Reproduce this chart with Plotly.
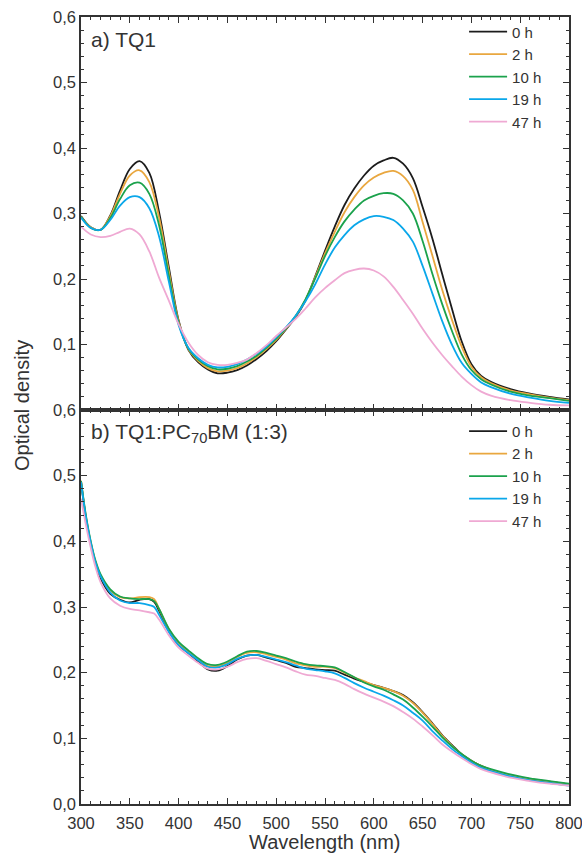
import plotly.graph_objects as go

# ---------------- data ----------------
series_names = ["0 h", "2 h", "10 h", "19 h", "47 h"]
series_colors = ["#1c1c1c", "#E9A73F", "#1BA24C", "#0AA7EA", "#EFA9D3"]

wl_top = [300, 310, 320, 330, 340, 350, 360, 370, 380, 390, 400, 410, 420, 430, 440,
          450, 460, 470, 480, 490, 500, 510, 520, 530, 540, 550, 560, 570, 580, 590,
          600, 610, 620, 630, 640, 650, 660, 670, 680, 690, 700, 710, 720, 740, 760,
          780, 800]

top_0h = [0.296, 0.279, 0.275, 0.297, 0.335, 0.368, 0.380, 0.362, 0.302, 0.218, 0.137,
          0.092, 0.073, 0.062, 0.056, 0.057, 0.061, 0.068, 0.078, 0.090, 0.105, 0.123,
          0.142, 0.167, 0.204, 0.243, 0.280, 0.313, 0.338, 0.358, 0.373, 0.381, 0.385,
          0.376, 0.354, 0.310, 0.262, 0.208, 0.155, 0.105, 0.070, 0.052, 0.043, 0.032,
          0.025, 0.020, 0.016]
top_2h = [0.295, 0.279, 0.275, 0.296, 0.330, 0.358, 0.366, 0.348, 0.294, 0.212, 0.135,
          0.093, 0.075, 0.064, 0.059, 0.060, 0.064, 0.071, 0.081, 0.093, 0.107, 0.124,
          0.143, 0.168, 0.203, 0.239, 0.272, 0.302, 0.325, 0.343, 0.355, 0.362, 0.365,
          0.357, 0.336, 0.287, 0.236, 0.184, 0.138, 0.097, 0.066, 0.050, 0.041, 0.030,
          0.024, 0.019, 0.015]
top_10h = [0.295, 0.278, 0.275, 0.293, 0.322, 0.343, 0.347, 0.330, 0.282, 0.205, 0.133,
           0.094, 0.077, 0.067, 0.062, 0.063, 0.067, 0.074, 0.083, 0.095, 0.109, 0.125,
           0.144, 0.169, 0.201, 0.235, 0.264, 0.288, 0.306, 0.320, 0.327, 0.331, 0.330,
           0.320, 0.300, 0.258, 0.208, 0.162, 0.121, 0.085, 0.061, 0.047, 0.039, 0.028,
           0.022, 0.018, 0.014]
top_19h = [0.294, 0.278, 0.275, 0.290, 0.312, 0.325, 0.325, 0.308, 0.265, 0.196, 0.130,
           0.095, 0.079, 0.069, 0.065, 0.066, 0.070, 0.077, 0.086, 0.097, 0.111, 0.126,
           0.144, 0.166, 0.192, 0.222, 0.248, 0.267, 0.282, 0.291, 0.296, 0.295, 0.290,
           0.277, 0.257, 0.220, 0.178, 0.136, 0.100, 0.072, 0.055, 0.042, 0.035, 0.025,
           0.019, 0.014, 0.011]
top_47h = [0.280, 0.268, 0.264, 0.266, 0.272, 0.277, 0.268, 0.242, 0.202, 0.167, 0.131,
           0.103, 0.084, 0.073, 0.069, 0.069, 0.072, 0.077, 0.087, 0.099, 0.113, 0.126,
           0.139, 0.155, 0.172, 0.186, 0.198, 0.209, 0.214, 0.216, 0.213, 0.204, 0.188,
           0.168, 0.147, 0.124, 0.103, 0.084, 0.067, 0.051, 0.038, 0.028, 0.022, 0.015,
           0.011, 0.008, 0.007]

wl_bot = [300, 305, 310, 315, 320, 330, 340, 350, 360, 370, 375, 380, 390, 400, 410,
          420, 430, 440, 450, 460, 470, 480, 490, 500, 510, 520, 530, 540, 550, 560,
          570, 580, 590, 600, 610, 620, 630, 640, 650, 660, 670, 680, 690, 700, 710,
          720, 740, 760, 780, 800]

bot_0h = [0.492, 0.435, 0.395, 0.365, 0.344, 0.320, 0.311, 0.307, 0.311, 0.312, 0.308,
          0.294, 0.263, 0.242, 0.230, 0.217, 0.205, 0.203, 0.210, 0.220, 0.226, 0.227,
          0.223, 0.219, 0.215, 0.209, 0.207, 0.205, 0.204, 0.203, 0.197, 0.191, 0.186,
          0.181, 0.177, 0.172, 0.166, 0.155, 0.140, 0.123, 0.105, 0.090, 0.076, 0.066,
          0.058, 0.052, 0.043, 0.038, 0.034, 0.030]
bot_2h = [0.492, 0.438, 0.398, 0.368, 0.348, 0.325, 0.315, 0.313, 0.315, 0.315, 0.312,
          0.297, 0.266, 0.245, 0.232, 0.220, 0.210, 0.210, 0.215, 0.224, 0.230, 0.231,
          0.228, 0.224, 0.220, 0.214, 0.211, 0.209, 0.209, 0.207, 0.200, 0.193, 0.187,
          0.181, 0.177, 0.172, 0.165, 0.154, 0.139, 0.122, 0.104, 0.089, 0.076, 0.066,
          0.058, 0.052, 0.043, 0.038, 0.034, 0.030]
bot_10h = [0.492, 0.440, 0.400, 0.370, 0.350, 0.327, 0.316, 0.313, 0.312, 0.312, 0.309,
           0.297, 0.267, 0.247, 0.234, 0.222, 0.213, 0.212, 0.217, 0.225, 0.232, 0.233,
           0.230, 0.226, 0.222, 0.217, 0.213, 0.211, 0.210, 0.208, 0.201, 0.193, 0.185,
           0.179, 0.174, 0.167, 0.159, 0.147, 0.133, 0.118, 0.102, 0.088, 0.076, 0.066,
           0.058, 0.053, 0.045, 0.039, 0.035, 0.031]
bot_19h = [0.490, 0.437, 0.398, 0.367, 0.347, 0.322, 0.310, 0.306, 0.306, 0.303, 0.300,
           0.288, 0.262, 0.242, 0.230, 0.219, 0.209, 0.208, 0.213, 0.221, 0.226, 0.227,
           0.224, 0.220, 0.216, 0.211, 0.206, 0.204, 0.202, 0.199, 0.192, 0.184, 0.177,
           0.171, 0.165, 0.158, 0.150, 0.139, 0.127, 0.111, 0.097, 0.084, 0.073, 0.063,
           0.055, 0.050, 0.042, 0.036, 0.032, 0.028]
bot_47h = [0.465, 0.425, 0.390, 0.360, 0.338, 0.313, 0.302, 0.297, 0.295, 0.292, 0.290,
           0.281, 0.257, 0.238, 0.226, 0.215, 0.206, 0.205, 0.209, 0.216, 0.221, 0.222,
           0.218, 0.213, 0.208, 0.202, 0.197, 0.195, 0.192, 0.189, 0.183, 0.175, 0.168,
           0.162, 0.156, 0.149, 0.140, 0.130, 0.118, 0.105, 0.091, 0.080, 0.070, 0.061,
           0.053, 0.048, 0.040, 0.035, 0.031, 0.028]

top_series = [top_0h, top_2h, top_10h, top_19h, top_47h]
bot_series = [bot_0h, bot_2h, bot_10h, bot_19h, bot_47h]

x_ticks = [300, 350, 400, 450, 500, 550, 600, 650, 700, 750, 800]
top_yticks = [0.1, 0.2, 0.3, 0.4, 0.5, 0.6]
top_ytext = ["0,1", "0,2", "0,3", "0,4", "0,5", "0,6"]
bot_yticks = [0.0, 0.1, 0.2, 0.3, 0.4, 0.5, 0.6]
bot_ytext = ["0,0", "0,1", "0,2", "0,3", "0,4", "0,5", "0,6"]

# ---------------- figure ----------------
FONT = "Liberation Sans, Arial, sans-serif"
TXT = "#333333"
AX = "#333333"

fig = go.Figure()
for name, col, ys in zip(series_names, series_colors, top_series):
    fig.add_trace(go.Scatter(x=wl_top, y=ys, mode="lines", name=name,
                             line=dict(color=col, width=1.8, shape="spline", smoothing=1.0),
                             xaxis="x", yaxis="y", legend="legend"))
for name, col, ys in zip(series_names, series_colors, bot_series):
    fig.add_trace(go.Scatter(x=wl_bot, y=ys, mode="lines", name=name,
                             line=dict(color=col, width=1.8, shape="spline", smoothing=1.0),
                             xaxis="x2", yaxis="y2", legend="legend2"))

split = 394 / 787

xcommon = dict(range=[300, 800], showgrid=False, zeroline=False, showline=True,
               linecolor=AX, linewidth=1.5, mirror="allticks", ticks="inside",
               ticklen=6, tickwidth=1.3, tickcolor=AX, tickvals=x_ticks,
               ticklabeloverflow="allow", ticklabelstandoff=3,
               minor=dict(ticks="inside", dtick=10, ticklen=3.5, tickwidth=1.1, tickcolor=AX),
               tickfont=dict(family=FONT, size=16.5, color=TXT))
ycommon = dict(range=[0, 0.6], showgrid=False, zeroline=False, showline=True,
               linecolor=AX, linewidth=1.5, mirror="allticks", ticks="inside",
               ticklen=6, tickwidth=1.3, tickcolor=AX,
               minor=dict(ticks="inside", dtick=0.02, ticklen=3.5, tickwidth=1.1, tickcolor=AX),
               tickfont=dict(family=FONT, size=16.5, color=TXT))

legend_common = dict(xanchor="left", yanchor="top", bgcolor="rgba(0,0,0,0)",
                     font=dict(family=FONT, size=15, color=TXT), tracegroupgap=0,
                     borderwidth=0, itemwidth=38)

fig.update_layout(
    width=582, height=855,
    margin=dict(l=81, r=13, t=17, b=51, autoexpand=False),
    paper_bgcolor="white", plot_bgcolor="white",
    font=dict(family=FONT, color=TXT),
    xaxis=dict(**xcommon, anchor="y", domain=[0, 1], showticklabels=False),
    yaxis=dict(**ycommon, anchor="x", domain=[split, 1], tickvals=top_yticks, ticktext=top_ytext),
    xaxis2=dict(**xcommon, anchor="y2", domain=[0, 1], showticklabels=True),
    yaxis2=dict(**ycommon, anchor="x2", domain=[0, split], tickvals=bot_yticks, ticktext=bot_ytext),
    legend=dict(**legend_common, x=0.785, y=1.002),
    legend2=dict(**legend_common, x=0.785, y=0.4945),
    showlegend=True,
    annotations=[
        dict(text="a) TQ1", x=0.0164, y=0.9708, xref="paper", yref="paper",
             xanchor="left", yanchor="middle", showarrow=False,
             font=dict(family=FONT, size=21, color=TXT)),
        dict(text="b) TQ1:PC<sub>70</sub>BM (1:3)", x=0.0164, y=0.4714, xref="paper", yref="paper",
             xanchor="left", yanchor="middle", showarrow=False,
             font=dict(family=FONT, size=21, color=TXT)),
        dict(text="Optical density", x=-0.1209, y=0.5057, xref="paper", yref="paper",
             xanchor="center", yanchor="middle", textangle=-90, showarrow=False,
             font=dict(family=FONT, size=20, color=TXT)),
        dict(text="Wavelength (nm)", x=0.5, y=-0.0485, xref="paper", yref="paper",
             xanchor="center", yanchor="middle", showarrow=False,
             font=dict(family=FONT, size=20, color=TXT)),
    ],
)

fig.write_html("out.html")
